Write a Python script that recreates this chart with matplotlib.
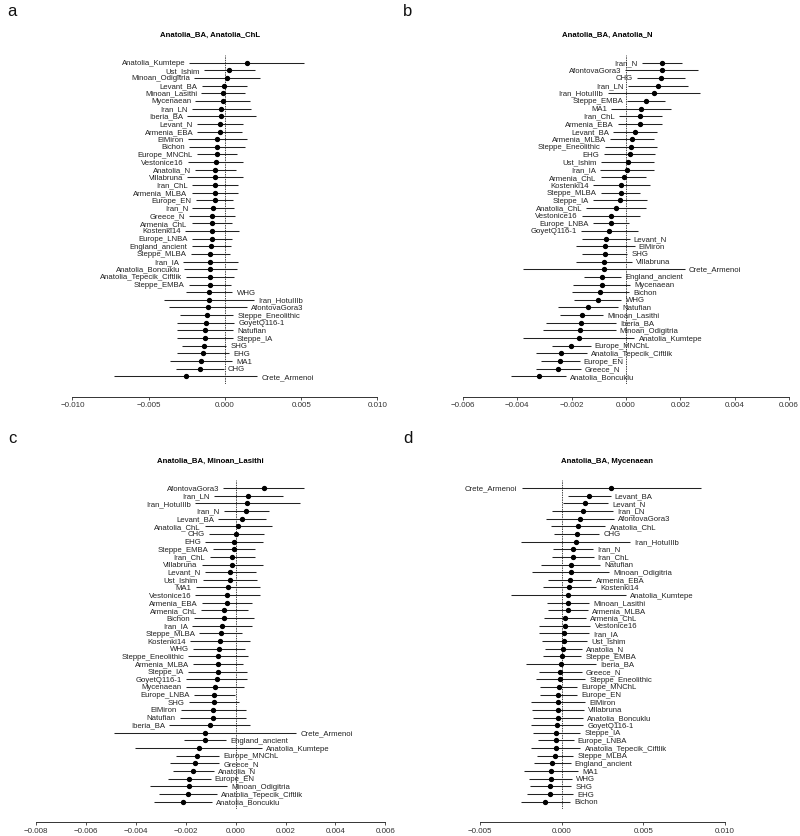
import numpy as np
import matplotlib
matplotlib.use("Agg")
import matplotlib.pyplot as plt
from matplotlib.ticker import FuncFormatter

plt.rcParams['font.family'] = ['Liberation Sans', 'DejaVu Sans']

# estimates and half-widths of the error bars, in units of 1e-3

# panel a: Anatolia_BA, Anatolia_ChL
a_names = ["Anatolia_Kumtepe", "Ust_Ishim", "Minoan_Odigitria", "Levant_BA", "Minoan_Lasithi",
           "Mycenaean", "Iran_LN", "Iberia_BA", "Levant_N", "Armenia_EBA", "ElMiron", "Bichon",
           "Europe_MNChL", "Vestonice16", "Anatolia_N", "Villabruna", "Iran_ChL", "Armenia_MLBA",
           "Europe_EN", "Iran_N", "Greece_N", "Armenia_ChL", "Kostenki14", "Europe_LNBA",
           "England_ancient", "Steppe_MLBA", "Iran_IA", "Anatolia_Boncuklu",
           "Anatolia_Tepecik_Ciftlik", "Steppe_EMBA", "WHG", "Iran_HotuIIIb", "AfontovaGora3",
           "Steppe_Eneolithic", "GoyetQ116-1", "Natufian", "Steppe_IA", "SHG", "EHG", "MA1",
           "CHG", "Crete_Armenoi"]
a_est = [1.42, 0.28, 0.13, -0.04, -0.13, -0.15, -0.24, -0.24, -0.33, -0.35, -0.50, -0.50,
         -0.52, -0.61, -0.63, -0.66, -0.66, -0.68, -0.68, -0.77, -0.85, -0.85, -0.85, -0.85,
         -0.90, -0.96, -0.96, -0.96, -0.98, -0.98, -1.05, -1.07, -1.14, -1.20, -1.27, -1.31,
         -1.33, -1.36, -1.42, -1.57, -1.64, -2.56]
a_half = [3.75, 1.67, 2.16, 1.49, 1.42, 1.79, 1.93, 2.25, 1.49, 1.46, 1.92, 1.84, 1.32, 1.81,
          1.33, 1.81, 1.52, 1.51, 1.23, 1.37, 1.52, 1.33, 1.78, 1.32, 1.28, 1.27, 1.79, 1.72,
          1.58, 1.39, 1.54, 2.96, 2.55, 1.74, 1.86, 1.86, 1.85, 1.44, 1.70, 2.05, 1.56, 4.69]

# panel b: Anatolia_BA, Anatolia_N
b_names = ["Iran_N", "AfontovaGora3", "CHG", "Iran_LN", "Iran_HotuIIIb", "Steppe_EMBA", "MA1",
           "Iran_ChL", "Armenia_EBA", "Levant_BA", "Armenia_MLBA", "Steppe_Eneolithic", "EHG",
           "Ust_Ishim", "Iran_IA", "Armenia_ChL", "Kostenki14", "Steppe_MLBA", "Steppe_IA",
           "Anatolia_ChL", "Vestonice16", "Europe_LNBA", "GoyetQ116-1", "Levant_N", "ElMiron",
           "SHG", "Villabruna", "Crete_Armenoi", "England_ancient", "Mycenaean", "Bichon", "WHG",
           "Natufian", "Minoan_Lasithi", "Iberia_BA", "Minoan_Odigitria", "Anatolia_Kumtepe",
           "Europe_MNChL", "Anatolia_Tepecik_Ciftlik", "Europe_EN", "Greece_N",
           "Anatolia_Boncuklu"]
b_est = [1.33, 1.31, 1.29, 1.18, 1.03, 0.74, 0.56, 0.53, 0.52, 0.33, 0.22, 0.18, 0.13, 0.06,
         0.04, -0.09, -0.17, -0.20, -0.21, -0.36, -0.55, -0.55, -0.61, -0.75, -0.76, -0.79,
         -0.80, -0.82, -0.87, -0.90, -0.94, -1.04, -1.39, -1.63, -1.67, -1.71, -1.74, -2.02,
         -2.38, -2.42, -2.50, -3.21]
b_half = [0.74, 1.34, 0.89, 1.12, 1.71, 0.70, 1.10, 0.79, 0.81, 0.80, 0.81, 0.96, 0.95, 0.98,
          1.00, 0.84, 1.04, 0.73, 1.00, 1.10, 1.07, 0.67, 1.04, 0.88, 1.08, 0.84, 1.03, 2.98,
          0.69, 1.04, 1.04, 0.87, 1.10, 0.80, 1.29, 1.33, 2.05, 0.72, 0.95, 0.71, 0.83, 1.01]

# panel c: Anatolia_BA, Minoan_Lasithi
c_names = ["AfontovaGora3", "Iran_LN", "Iran_HotuIIIb", "Iran_N", "Levant_BA", "Anatolia_ChL",
           "CHG", "EHG", "Steppe_EMBA", "Iran_ChL", "Villabruna", "Levant_N", "Ust_Ishim", "MA1",
           "Vestonice16", "Armenia_EBA", "Armenia_ChL", "Bichon", "Iran_IA", "Steppe_MLBA",
           "Kostenki14", "WHG", "Steppe_Eneolithic", "Armenia_MLBA", "Steppe_IA", "GoyetQ116-1",
           "Mycenaean", "Europe_LNBA", "SHG", "ElMiron", "Natufian", "Iberia_BA",
           "Crete_Armenoi", "England_ancient", "Anatolia_Kumtepe", "Europe_MNChL", "Greece_N",
           "Anatolia_N", "Europe_EN", "Minoan_Odigitria", "Anatolia_Tepecik_Ciftlik",
           "Anatolia_Boncuklu"]
c_est = [1.12, 0.51, 0.47, 0.43, 0.25, 0.11, 0.03, -0.07, -0.08, -0.13, -0.13, -0.21, -0.23,
         -0.31, -0.33, -0.36, -0.45, -0.47, -0.56, -0.60, -0.63, -0.68, -0.71, -0.71, -0.72,
         -0.76, -0.84, -0.85, -0.88, -0.90, -0.91, -1.04, -1.22, -1.22, -1.48, -1.54, -1.64,
         -1.70, -1.86, -1.88, -1.91, -2.10]
c_half = [1.61, 1.38, 2.09, 0.91, 0.95, 1.36, 1.10, 1.16, 0.85, 0.92, 1.23, 1.04, 1.10, 1.30,
          1.29, 1.00, 0.94, 1.21, 1.20, 0.86, 1.20, 1.04, 1.19, 1.00, 1.19, 1.22, 1.16, 0.81,
          1.00, 1.30, 1.33, 1.62, 3.65, 0.85, 2.54, 0.86, 0.99, 0.83, 0.85, 1.55, 1.16, 1.16]

# panel d: Anatolia_BA, Mycenaean
d_names = ["Crete_Armenoi", "Levant_BA", "Levant_N", "Iran_LN", "AfontovaGora3", "Anatolia_ChL",
           "CHG", "Iran_HotuIIIb", "Iran_N", "Iran_ChL", "Natufian", "Minoan_Odigitria",
           "Armenia_EBA", "Kostenki14", "Anatolia_Kumtepe", "Minoan_Lasithi", "Armenia_MLBA",
           "Armenia_ChL", "Vestonice16", "Iran_IA", "Ust_Ishim", "Anatolia_N", "Steppe_EMBA",
           "Iberia_BA", "Greece_N", "Steppe_Eneolithic", "Europe_MNChL", "Europe_EN", "ElMiron",
           "Villabruna", "Anatolia_Boncuklu", "GoyetQ116-1", "Steppe_IA", "Europe_LNBA",
           "Anatolia_Tepecik_Ciftlik", "Steppe_MLBA", "England_ancient", "MA1", "WHG", "SHG",
           "EHG", "Bichon"]
d_est = [3.02, 1.69, 1.45, 1.29, 1.12, 1.00, 0.92, 0.86, 0.71, 0.69, 0.55, 0.55, 0.49, 0.47,
         0.41, 0.41, 0.37, 0.18, 0.18, 0.16, 0.16, 0.10, 0.02, -0.04, -0.08, -0.08, -0.18,
         -0.20, -0.22, -0.24, -0.24, -0.29, -0.33, -0.35, -0.37, -0.41, -0.59, -0.65, -0.67,
         -0.69, -0.71, -1.00]
d_half = [5.48, 1.30, 1.40, 1.87, 2.06, 1.68, 1.38, 3.34, 1.23, 1.26, 1.81, 2.36, 1.33, 1.64,
          3.50, 1.28, 1.22, 1.29, 1.58, 1.54, 1.38, 1.14, 1.18, 2.13, 1.31, 1.51, 1.12, 1.12,
          1.66, 1.58, 1.54, 1.61, 1.45, 1.08, 1.51, 1.13, 1.13, 1.63, 1.31, 1.27, 1.41, 1.51]

titles = ["Anatolia_BA, Anatolia_ChL", "Anatolia_BA, Anatolia_N",
          "Anatolia_BA, Minoan_Lasithi", "Anatolia_BA, Mycenaean"]
letters = ["a", "b", "c", "d"]

W, H = 800, 837
fig = plt.figure(figsize=(W / 100, H / 100), dpi=100)


def px_box(x0, x1, y0, y1):
    return [x0 / W, 1 - y1 / H, (x1 - x0) / W, (y1 - y0) / H]


panels = [
    # names, est, half, number of rows labelled on the left, xlim, ticks, box, letter pos
    (a_names, a_est, a_half, 30, (-0.012918, 0.010951), np.linspace(-0.01, 0.01, 5),
     px_box(28, 392, 56, 385), (12, 12)),
    (b_names, b_est, b_half, 23, (-0.007509, 0.006110), np.linspace(-0.006, 0.006, 7),
     px_box(422, 792, 56, 385), (408, 12)),
    (c_names, c_est, c_half, 32, (-0.008331, 0.006270), np.linspace(-0.008, 0.006, 8),
     px_box(28, 392, 481.4, 810.3), (12, 439)),
    (d_names, d_est, d_half, 1, (-0.008550, 0.014094), np.linspace(-0.005, 0.01, 4),
     px_box(422, 792, 481.4, 810.3), (408, 439)),
]

fmt = FuncFormatter(lambda v, p: ("%.3f" % (0 if abs(v) < 1e-12 else v)).replace("-", "\u2212"))

for k, (names, est, half, nleft, xlim, ticks, box, lpos) in enumerate(panels):
    ax = fig.add_axes(box)
    est = np.array(est) * 1e-3
    half = np.array(half) * 1e-3
    rows = np.arange(1, len(names) + 1)

    ax.axvline(0, color="#444444", lw=0.7, ls=(0, (1.5, 1)), zorder=1)
    ax.errorbar(est, rows, xerr=half, fmt="o", ms=2.8, color="black",
                ecolor="#222222", elinewidth=0.75, capsize=0, zorder=2)

    for i, name in enumerate(names):
        if i < nleft:
            ax.annotate(name, (est[i] - half[i], rows[i]), xytext=(-3, 0),
                        textcoords="offset points", ha="right", va="center",
                        fontsize=5.6, color="#222222", annotation_clip=False)
        else:
            ax.annotate(name, (est[i] + half[i], rows[i]), xytext=(3, 0),
                        textcoords="offset points", ha="left", va="center",
                        fontsize=5.6, color="#222222", annotation_clip=False)

    ax.set_xlim(*xlim)
    ax.set_ylim(43.0, 0)
    ax.set_yticks([])
    for s in ["left", "right", "top"]:
        ax.spines[s].set_visible(False)
    ax.spines["bottom"].set_position(("outward", 9.4))
    ax.spines["bottom"].set_bounds(ticks[0], ticks[-1])
    ax.spines["bottom"].set_linewidth(0.7)
    ax.spines["bottom"].set_color("#333333")
    ax.set_xticks(ticks)
    ax.xaxis.set_major_formatter(fmt)
    ax.tick_params(axis="x", length=2, width=0.6, pad=1, labelsize=5.8, colors="#333333")
    ax.patch.set_visible(False)
    ax.set_title(titles[k], fontsize=5.6, fontweight="bold", pad=13.5)

    fig.text(lpos[0] / W, 1 - lpos[1] / H, letters[k], fontsize=12,
             ha="center", va="center", color="#111111")

fig.savefig("out.png", dpi=100)
